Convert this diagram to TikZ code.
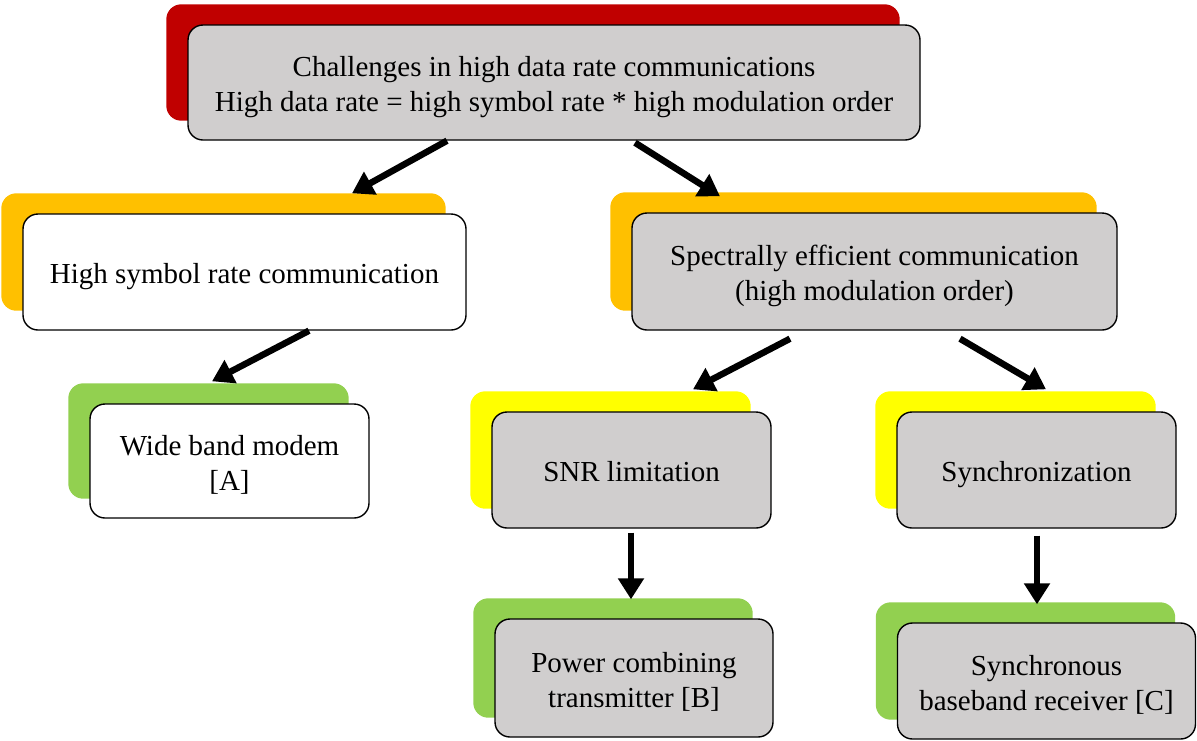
\documentclass[tikz,border=0pt]{standalone}
\usepackage{fontspec}
\setmainfont{Liberation Serif}
\usetikzlibrary{arrows.meta,backgrounds}
\definecolor{boxgray}{HTML}{D0CECE}
\definecolor{sred}{HTML}{C00000}
\definecolor{sorange}{HTML}{FFC000}
\definecolor{syellow}{HTML}{FFFF00}
\definecolor{sgreen}{HTML}{92D050}
\tikzset{
  box/.style={draw=black, line width=1.4pt, rounded corners=15pt, align=center,
    inner sep=0pt, font=\fontsize{29}{35}\selectfont},
  graybox/.style={box, fill=boxgray},
  whitebox/.style={box, fill=white},
  arr/.style={line width=6.5pt, -{Triangle[length=21pt,width=25pt]}},
  shadowfill/.style={rounded corners=15pt}
}
\newcommand{\shadowof}[2]{%
  \fill[#2, shadowfill] ([shift={(-21pt,20pt)}]#1.south west) rectangle ([shift={(-21pt,20pt)}]#1.north east);}
\newcommand{\boxtext}[1]{\raisebox{-4.5pt}[\height][\depth]{\begin{tabular}{@{}c@{}}#1\end{tabular}}}
\begin{document}
\begin{tikzpicture}[x=1pt,y=-1pt]
\useasboundingbox (0,0) rectangle (1197,740);
\node[graybox, minimum width=732pt, minimum height=115pt] (top) at (554,82.5)
  {\boxtext{Challenges in high data rate communications\\High data rate = high symbol rate * high modulation order}};
\node[whitebox, minimum width=443pt, minimum height=116pt] (hs) at (244.5,272)
  {\boxtext{High symbol rate communication}};
\node[graybox, minimum width=485pt, minimum height=117pt] (se) at (874.5,271.5)
  {\boxtext{Spectrally efficient communication\\(high modulation order)}};
\node[whitebox, minimum width=279pt, minimum height=114pt] (wa) at (229.5,461)
  {\boxtext{Wide band modem\\{}[A]}};
\node[graybox, minimum width=279pt, minimum height=116pt] (snr) at (631.5,470)
  {\boxtext{SNR limitation}};
\node[graybox, minimum width=279pt, minimum height=116pt] (syn) at (1036.5,470)
  {\boxtext{Synchronization}};
\node[graybox, minimum width=278pt, minimum height=118pt] (pb) at (634,678)
  {\boxtext{Power combining\\transmitter [B]}};
\node[graybox, minimum width=298pt, minimum height=116pt] (rc) at (1046.5,681)
  {\boxtext{Synchronous\\baseband receiver [C]}};
\begin{scope}[on background layer]
\shadowof{top}{sred}
\shadowof{hs}{sorange}
\shadowof{se}{sorange}
\shadowof{wa}{sgreen}
\shadowof{snr}{syellow}
\shadowof{syn}{syellow}
\shadowof{pb}{sgreen}
\shadowof{rc}{sgreen}
\end{scope}
\draw[arr] ([xshift=-107pt]top.south) -- ([xshift=107.5pt,yshift=20pt]hs.north);
\draw[arr] ([xshift=81pt,yshift=-2pt]top.south) -- ([xshift=-154.5pt,yshift=16pt]se.north);
\draw[arr] ([xshift=64.5pt]hs.south) -- ([xshift=-17.5pt,yshift=22pt]wa.north);
\draw[arr] ([xshift=-84.5pt,yshift=-8pt]se.south) -- ([xshift=61.5pt,yshift=22pt]snr.north);
\draw[arr] ([xshift=85.5pt,yshift=-8pt]se.south) -- ([xshift=9.5pt,yshift=22pt]syn.north);
\draw[arr] ([xshift=-0.5pt,yshift=-4pt]snr.south) -- ([xshift=-3pt,yshift=19pt]pb.north);
\draw[arr] ([xshift=0.5pt,yshift=-7pt]syn.south) -- ([xshift=-9.5pt,yshift=18pt]rc.north);
\end{tikzpicture}
\end{document}
